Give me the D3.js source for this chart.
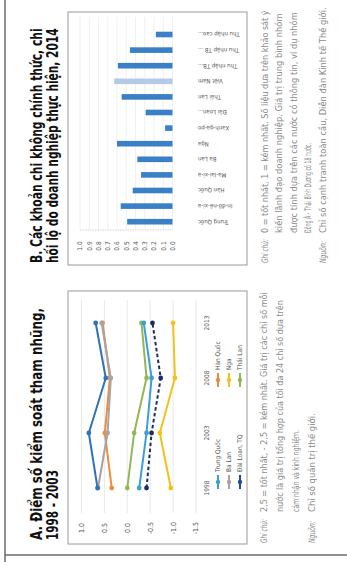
<!DOCTYPE html>
<html><head><meta charset="utf-8">
<script src="https://cdn.jsdelivr.net/npm/d3@7"></script>
<style>html,body{margin:0;padding:0;background:#fff;overflow:hidden}</style>
</head><body>
<svg id="c" width="347" height="562"></svg>
<script>
// ---------- Panel A data ----------
const years = ["1998", "2003", "2008", "2013"];
const trungQuoc = [-0.26, -0.42, -0.53, -0.36];
const baLan = [0.64, 0.43, 0.36, 0.56];
const daiLoan = [0.65, 0.84, 0.47, 0.69];
const hanQuoc = [0.34, 0.49, 0.38, 0.54];
const nga = [-0.95, -0.71, -1.04, -1.00];
const thaiLan = [0.00, -0.15, -0.42, -0.31];
const vietNam = [-0.42, -0.53, -0.73, -0.55];
const aTicks = [1.0, 0.5, 0.0, -0.5, -1.0, -1.5];
const aTickLabels = ["1.0", "0.5", "0.0", "-0.5", "-1.0", "-1.5"];

// ---------- Panel B data ----------
const bCategories = ["Trung Quốc", "In-đô-nê-xi-a", "Hàn Quốc", "Ma-lai-xi-a", "Ba Lan", "Nga",
  "Xanh-ga-po", "Đài Loan...", "Thái Lan", "Việt Nam", "Thu nhập TB...", "Thu nhập TB ...", "Thu nhập cao..."];
const bValues = [0.49, 0.56, 0.43, 0.34, 0.38, 0.60, 0.08, 0.29, 0.55, 0.63, 0.59, 0.46, 0.18];
const bTicks = [1.0, 0.9, 0.8, 0.7, 0.6, 0.5, 0.4, 0.3, 0.2, 0.1, 0.0];

const FONT = "'Liberation Sans Narrow','DejaVu Sans Condensed','Roboto',sans-serif";

const svg = d3.select("#c");
// unrotated drawing frame (562 wide x 347 tall), rotated 90° counter-clockwise
const g = svg.append("g").attr("transform", "translate(0,562) rotate(-90)");

// outer frame
g.append("line").attr("x1", 0).attr("x2", 562).attr("y1", 5).attr("y2", 5)
  .attr("stroke", "#6b6b6b").attr("stroke-width", 1.5);
g.append("line").attr("x1", 7).attr("x2", 7).attr("y1", 5).attr("y2", 347)
  .attr("stroke", "#6b6b6b").attr("stroke-width", 1.5);

// panel boxes
[18, 297].forEach(u => {
  g.append("rect").attr("x", u).attr("y", 68).attr("width", 253).attr("height", 179)
    .attr("fill", "#fff").attr("stroke", "#9a9a9a").attr("stroke-width", 1);
});

// text fitted to a measured length by horizontal scaling
function fitText(txt, x, y, len, attrs) {
  const t = g.append("text").attr("x", 0).attr("y", 0).text(txt).attr("font-family", FONT);
  Object.entries(attrs).forEach(([k, v]) => t.attr(k, v));
  const nat = t.node().getComputedTextLength();
  const k = nat > 0 ? len / nat : 1;
  t.attr("transform", `translate(${x},${y}) scale(${k},1)`);
  return t;
}
function title(txt, x, y, len) {
  fitText(txt, x, y, len, {"font-weight": "bold", "font-size": 16, "fill": "#111"});
}
title("A. Điểm số kiểm soát tham nhũng,", 22, 42, 232);
title("1998 - 2003", 22, 58, 70);
title("B. Các khoản chi không chính thức, chi", 299, 42, 235);
title("hối lộ do doanh nghiệp thực hiện, 2014", 299, 58, 235);

// ---------- Panel A chart ----------
const xA = d3.scalePoint().domain(years).range([74, 239]);
const yA = d3.scaleLinear().domain([-1.5, 1.0]).range([196, 81.5]);

g.append("g").selectAll("line").data(aTicks).join("line")
  .attr("x1", 49).attr("x2", 262).attr("y1", d => yA(d)).attr("y2", d => yA(d))
  .attr("stroke", "#e3e3e3").attr("stroke-width", 0.8);

g.append("g").selectAll("text").data(aTicks).join("text")
  .attr("x", 34).attr("y", d => yA(d)).attr("dy", "0.35em")
  .attr("text-anchor", "middle").attr("font-family", FONT).attr("font-size", 7)
  .attr("fill", "#555").text((d, i) => aTickLabels[i]);

g.append("g").selectAll("text").data(years).join("text")
  .attr("x", d => xA(d)).attr("y", 207).attr("dy", "0.35em")
  .attr("text-anchor", "middle").attr("font-family", FONT).attr("font-size", 6.5)
  .attr("fill", "#555").text(d => d);

const series = [
  {name: "Thái Lan", values: thaiLan, color: "#93b656"},
  {name: "Trung Quốc", values: trungQuoc, color: "#3e9fd3"},
  {name: "Hàn Quốc", values: hanQuoc, color: "#ee8a3c"},
  {name: "Ba Lan", values: baLan, color: "#a9a3a6"},
  {name: "Đài Loan, TQ", values: daiLoan, color: "#2f72b8"},
  {name: "Nga", values: nga, color: "#f1c21c"},
  {name: "Việt Nam", values: vietNam, color: "#1d2d62", dash: "3.5,2.5"}
];
const line = d3.line().x((d, i) => xA(years[i])).y(d => yA(d));
series.forEach(s => {
  g.append("path").attr("d", line(s.values)).attr("fill", "none")
    .attr("stroke", s.color).attr("stroke-width", 2)
    .attr("stroke-dasharray", s.dash || null);
  g.append("g").selectAll("circle").data(s.values).join("circle")
    .attr("cx", (d, i) => xA(years[i])).attr("cy", d => yA(d)).attr("r", 2.4)
    .attr("fill", s.color);
});

// legend
const legendItems = [
  {name: "Trung Quốc", color: "#3e9fd3", col: 0, row: 0},
  {name: "Ba Lan", color: "#a9a3a6", col: 0, row: 1},
  {name: "Đài Loan, TQ", color: "#1f4f95", col: 0, row: 2},
  {name: "Hàn Quốc", color: "#ee8a3c", col: 1, row: 0},
  {name: "Nga", color: "#f1c21c", col: 1, row: 1},
  {name: "Thái Lan", color: "#93b656", col: 1, row: 2}
];
const legColU = [80, 182], legRowV = [218, 229, 240];
legendItems.forEach(it => {
  const u = legColU[it.col], v = legRowV[it.row];
  g.append("line").attr("x1", u - 7).attr("x2", u + 7).attr("y1", v).attr("y2", v)
    .attr("stroke", it.color).attr("stroke-width", 2);
  g.append("circle").attr("cx", u).attr("cy", v).attr("r", 2.2).attr("fill", it.color);
  g.append("text").attr("x", u + 10).attr("y", v).attr("dy", "0.35em")
    .attr("font-family", FONT).attr("font-size", 6.5).attr("fill", "#555").text(it.name);
});

// ---------- Panel B chart ----------
const xB = d3.scaleBand().domain(bCategories).range([332.5, 535.3]).paddingInner(0.64).paddingOuter(0.32);
const yB = d3.scaleLinear().domain([0, 1]).range([172.5, 80]);

g.append("g").selectAll("line").data(bTicks).join("line")
  .attr("x1", 332).attr("x2", 545).attr("y1", d => yB(d)).attr("y2", d => yB(d))
  .attr("stroke", "#eeeeee").attr("stroke-width", 0.8);
g.append("line").attr("x1", 332).attr("x2", 332).attr("y1", yB(1)).attr("y2", yB(0))
  .attr("stroke", "#d2d2d2").attr("stroke-width", 1).attr("stroke-dasharray", "1.5,1");

g.append("g").selectAll("text").data(bTicks).join("text")
  .attr("x", 316).attr("y", d => yB(d)).attr("dy", "0.35em")
  .attr("text-anchor", "middle").attr("font-family", FONT).attr("font-size", 6.5)
  .attr("fill", "#555").text(d => d.toFixed(1));

g.append("g").selectAll("rect").data(bCategories).join("rect")
  .attr("x", d => xB(d)).attr("width", xB.bandwidth())
  .attr("y", (d, i) => yB(bValues[i])).attr("height", (d, i) => yB(0) - yB(bValues[i]))
  .attr("fill", d => d === "Việt Nam" ? "#b3cbe7" : "#3a80c6");

g.append("g").selectAll("text").data(bCategories).join("text")
  .attr("transform", d => `translate(${xB(d) + xB.bandwidth() / 2},198) rotate(-90)`)
  .attr("dy", "0.35em").attr("text-anchor", "end")
  .attr("font-family", FONT).attr("font-size", 6).attr("fill", "#555").text(d => d);

// ---------- Notes ----------
function note(txt, x, y, len, italic) {
  const attrs = {"font-size": 9, "fill": "#8a8a8a"};
  if (italic) attrs["font-style"] = "italic";
  fitText(txt, x, y, len, attrs);
}
note("Ghi chú:", 19, 266.5, 24, true);
note("2,5 = tốt nhất, - 2,5 = kém nhất. Giá trị các chỉ số mỗi", 50, 266.5, 220);
note("nước là giá trị tổng hợp của tối đa 24 chỉ số dựa trên", 50, 283, 212);
note("cảm nhận và kinh nghiệm.", 50, 299, 82);
note("Nguồn:", 19, 315, 22, true);
note("Chỉ số quản trị thế giới.", 50, 315, 99);

note("Ghi chú:", 299, 267.5, 24, true);
note("0 = tốt nhất, 1 = kém nhất. Số liệu dựa trên khảo sát ý", 329, 267.5, 223);
note("kiến lãnh đạo doanh nghiệp. Giá trị trung bình nhóm", 329, 282, 220);
note("được tính dựa trên các nước có thông tin, ví dụ nhóm", 329, 296.5, 221);
note("Đông Á - Thái Bình Dương có 18 nước.", 329, 311, 90);
note("Nguồn:", 299, 325.5, 22, true);
note("Chỉ số cạnh tranh toàn cầu, Diễn đàn Kinh tế Thế giới.", 329, 325.5, 226);
</script>
</body></html>
